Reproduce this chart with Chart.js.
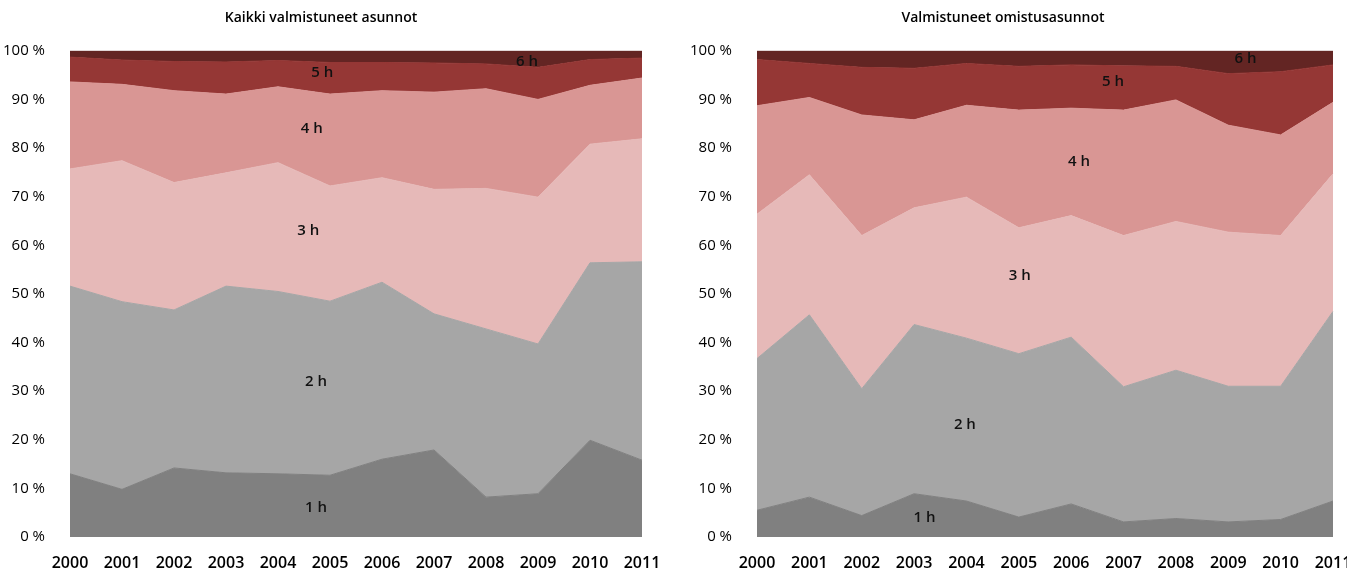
<!DOCTYPE html>
<html lang="fi">
<head>
<meta charset="UTF-8">
<title>Valmistuneet asunnot</title>
<script src="https://cdn.jsdelivr.net/npm/chart.js"></script>
<style>
  body { margin: 0; background: #fff; overflow: hidden; }
  .wrap { position: absolute; top: 0; height: 571px; }
  #w1 { left: 0; width: 673px; }
  #w2 { left: 673px; width: 674px; }
</style>
</head>
<body>
<div class="wrap" id="w1"><canvas id="kaikki"></canvas></div>
<div class="wrap" id="w2"><canvas id="omistus"></canvas></div>
<script>
// vuodet
const vuodet = ['2000','2001','2002','2003','2004','2005','2006','2007','2008','2009','2010','2011'];
const huoneet = ['1 h','2 h','3 h','4 h','5 h','6 h'];

// Kaikki valmistuneet asunnot (%)
const kaikki1h = [13.0, 9.8, 14.2, 13.2, 13.0, 12.7, 16.0, 17.9, 8.2, 8.9, 19.9, 15.8];
const kaikki2h = [38.6, 38.6, 32.5, 38.4, 37.5, 35.8, 36.4, 28.0, 34.6, 30.8, 36.5, 40.8];
const kaikki3h = [24.1, 29.0, 26.2, 23.3, 26.5, 23.7, 21.5, 25.6, 28.9, 30.2, 24.4, 25.3];
const kaikki4h = [17.9, 15.7, 18.9, 16.2, 15.6, 18.9, 17.9, 20.0, 20.5, 20.1, 12.1, 12.5];
const kaikki5h = [5.1, 5.0, 6.0, 6.6, 5.4, 6.5, 5.8, 6.0, 5.1, 6.6, 5.3, 4.1];
const kaikki6h = [1.3, 1.9, 2.2, 2.3, 2.0, 2.4, 2.4, 2.5, 2.7, 3.4, 1.8, 1.5];

// Valmistuneet omistusasunnot (%)
const omistus1h = [5.5, 8.2, 4.4, 8.9, 7.4, 4.1, 6.8, 3.1, 3.8, 3.1, 3.6, 7.4];
const omistus2h = [31.2, 37.5, 26.1, 34.8, 33.5, 33.6, 34.3, 27.8, 30.5, 27.9, 27.4, 39.0];
const omistus3h = [29.7, 28.8, 31.5, 24.0, 29.0, 25.9, 25.0, 31.1, 30.6, 31.7, 31.0, 28.3];
const omistus4h = [22.3, 15.9, 24.8, 18.1, 18.9, 24.2, 22.1, 25.8, 25.0, 22.0, 20.7, 14.7];
const omistus5h = [9.5, 7.0, 9.8, 10.6, 8.6, 9.0, 8.9, 9.1, 6.9, 10.6, 13.0, 7.7];
const omistus6h = [1.8, 2.6, 3.4, 3.6, 2.6, 3.2, 2.9, 3.1, 3.2, 4.7, 4.3, 2.9];

const yTicks = [0, 10, 20, 30, 40, 50, 60, 70, 80, 90, 100];

// tekstien paikat: [vuosi-indeksi, prosentti]
const kaikkiTekstit = [[4.73, 6], [4.73, 32], [4.58, 63], [4.65, 84], [4.85, 95.5], [8.79, 97.7]];
const omistusTekstit = [[3.2, 4], [3.97, 23], [5.02, 53.7], [6.15, 77.2], [6.8, 93.6], [9.33, 98.4]];

const varit = ['#808080', '#a6a6a6', '#e6b9b8', '#d99694', '#953735', '#632523'];

const tekstiPlugin = {
  id: 'alueTekstit',
  afterDatasetsDraw(chart, args, opts) {
    const ctx = chart.ctx;
    const x = chart.scales.x, y = chart.scales.y;
    ctx.save();
    ctx.font = '600 15px "Open Sans"';
    ctx.fillStyle = '#111';
    ctx.textAlign = 'center';
    ctx.textBaseline = 'middle';
    opts.paikat.forEach((p, i) => {
      ctx.fillText(huoneet[i], x.getPixelForValue(p[0]), y.getPixelForValue(p[1]));
    });
    ctx.restore();
  }
};

function teeKaavio(id, otsikko, sarjat, paikat, vasen, oikea) {
  const datasets = sarjat.map((d, i) => ({
    label: huoneet[i],
    data: d,
    backgroundColor: varit[i],
    borderColor: varit[i],
    borderWidth: 1,
    pointRadius: 0,
    tension: 0,
    fill: i === 0 ? 'origin' : '-1'
  }));
  return new Chart(document.getElementById(id), {
    type: 'line',
    data: { labels: vuodet, datasets: datasets },
    plugins: [tekstiPlugin],
    options: {
      responsive: true,
      maintainAspectRatio: false,
      animation: false,
      layout: { padding: { left: 0, right: oikea, top: 0, bottom: 0 } },
      plugins: {
        legend: { display: false },
        tooltip: { enabled: false },
        title: {
          display: true,
          text: otsikko,
          color: '#000',
          font: { family: 'Open Sans', size: 14, weight: '600' },
          padding: { top: 10, bottom: 24 }
        },
        alueTekstit: { paikat: paikat }
      },
      scales: {
        x: {
          offset: false,
          grid: { display: false, drawTicks: false, tickLength: 0 },
          border: { display: false },
          afterFit: (s) => { s.height = 34; s.paddingLeft = 0; s.paddingRight = 0; },
          ticks: {
            color: '#000',
            maxRotation: 0,
            autoSkip: false,
            padding: 17,
            font: { family: 'Open Sans', size: 16, weight: '600' }
          }
        },
        y: {
          stacked: true,
          min: 0,
          max: 100,
          grid: { display: false },
          border: { display: false },
          afterBuildTicks: (s) => { s.ticks = yTicks.map(v => ({ value: v })); },
          afterFit: (s) => { s.width = vasen; },
          ticks: {
            color: '#000',
            padding: 17,
            font: { family: 'Open Sans', size: 15 },
            callback: v => v + ' %'
          }
        }
      }
    }
  });
}

teeKaavio('kaikki', 'Kaikki valmistuneet asunnot',
  [kaikki1h, kaikki2h, kaikki3h, kaikki4h, kaikki5h, kaikki6h], kaikkiTekstit, 70, 31);
teeKaavio('omistus', 'Valmistuneet omistusasunnot',
  [omistus1h, omistus2h, omistus3h, omistus4h, omistus5h, omistus6h], omistusTekstit, 84, 14);
</script>
</body>
</html>
